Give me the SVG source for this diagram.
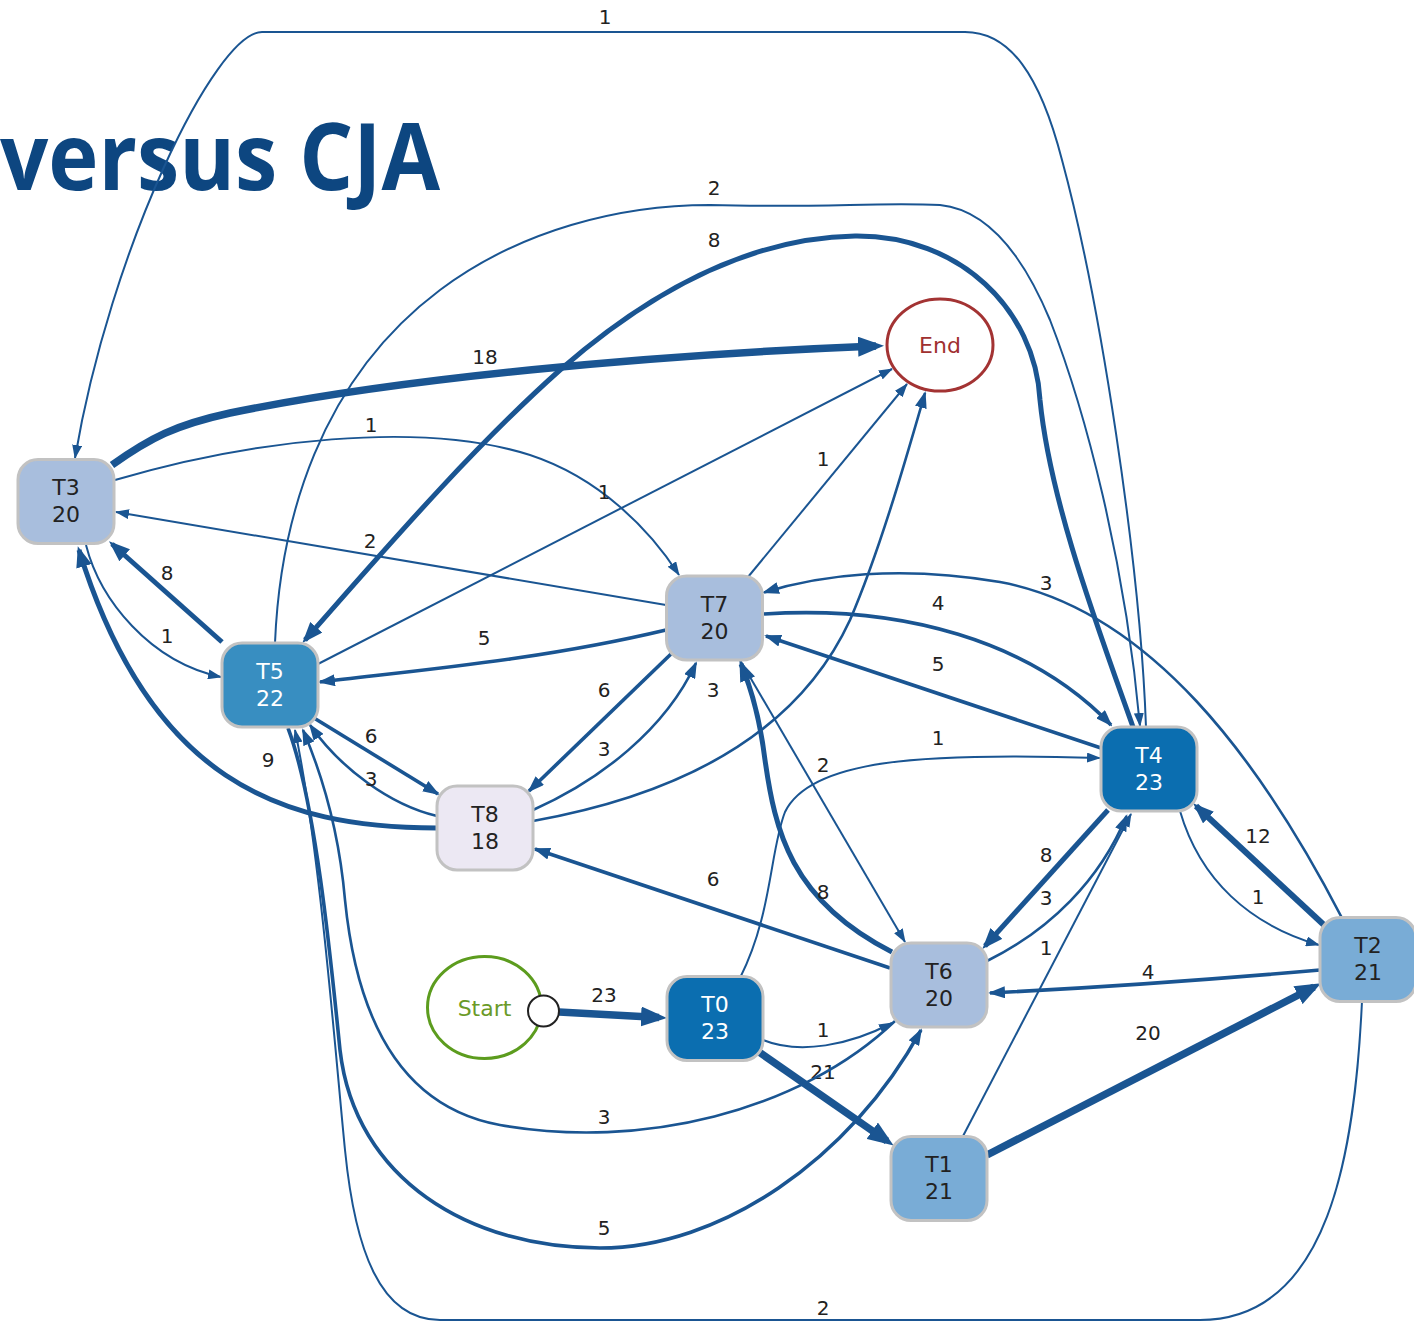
<svg xmlns="http://www.w3.org/2000/svg" width="1414" height="1324" viewBox="0 0 1414 1324">
  <style>
    .title { font-family: "Open Sans", "Liberation Sans", sans-serif; font-weight: bold; font-size: 94px; fill: #0d4680; }
    .e { fill: none; stroke: #1a5592; stroke-linejoin: round; }
    .w1 { stroke-width: 2; marker-end: url(#m1); }
    .w3 { stroke-width: 2.6; marker-end: url(#m2); }
    .w5 { stroke-width: 3.6; marker-end: url(#m2); }
    .w8 { stroke-width: 5; marker-end: url(#m3); }
    .w12 { stroke-width: 6; marker-end: url(#m3); }
    .w20 { stroke-width: 7.5; marker-end: url(#m4); }
    .lbl { font-family: "DejaVu Sans", Verdana, sans-serif; font-size: 20px; fill: #222; text-anchor: middle; }
    .node rect { stroke: #c2c2c2; stroke-width: 3; }
    .node text { font-family: "DejaVu Sans", Verdana, sans-serif; font-size: 22px; text-anchor: middle; }
    .light rect { fill: #a8bedd; }
    .light text { fill: #222; }
    .mid rect { fill: #388ec1; }
    .mid text { fill: #fff; }
    .dark rect { fill: #0b6eb0; }
    .dark text { fill: #fff; }
    .pale rect { fill: #79acd6; }
    .pale text { fill: #222; }
    .lav rect { fill: #ece8f3; }
    .lav text { fill: #222; }
  </style>
  <defs>
    <marker id="m1" markerUnits="userSpaceOnUse" markerWidth="14" markerHeight="10" refX="13" refY="5" orient="auto">
      <path d="M0,0 L14,5 L0,10 z" fill="#1a5592"/>
    </marker>
    <marker id="m2" markerUnits="userSpaceOnUse" markerWidth="17" markerHeight="12" refX="15" refY="6" orient="auto">
      <path d="M0,0 L17,6 L0,12 z" fill="#1a5592"/>
    </marker>
    <marker id="m3" markerUnits="userSpaceOnUse" markerWidth="21" markerHeight="16" refX="17" refY="8" orient="auto">
      <path d="M0,0 L21,8 L0,16 z" fill="#1a5592"/>
    </marker>
    <marker id="m4" markerUnits="userSpaceOnUse" markerWidth="26" markerHeight="20" refX="18" refY="10" orient="auto">
      <path d="M0,0 L26,10 L0,20 z" fill="#1a5592"/>
    </marker>
  </defs>

  <rect width="1414" height="1324" fill="#fff"/>
  <text class="title" x="0" y="190" textLength="440" lengthAdjust="spacingAndGlyphs">versus CJA</text>

  <g id="connectors">
    <g id="e-T4-T3"><path class="e w1" d="M1146,727 C1140,560 1100,300 1062,160 C1040,75 1010,32 965,32 L262,32 C215,32 110,250 75,458"/><text class="lbl" x="605" y="24">1</text></g>
    <g id="e-T3-End"><path class="e w20" d="M112,465 C150,438 175,425 230,413 C400,378 650,355 876,346"/><text class="lbl" x="485" y="364">18</text></g>
    <g id="e-T3-T7"><path class="e w1" d="M115,480 C250,440 420,420 530,455 C600,478 650,530 679,575"/><text class="lbl" x="371" y="432">1</text></g>
    <g id="e-T5-End"><path class="e w1" d="M318,664 L892,369"/><text class="lbl" x="604" y="499">1</text></g>
    <g id="e-T7-T3"><path class="e w1" d="M666,605 L116,512"/><text class="lbl" x="370" y="548">2</text></g>
    <g id="e-T7-End"><path class="e w1" d="M748,577 L907,384"/><text class="lbl" x="823" y="466">1</text></g>
    <g id="e-T5-T3"><path class="e w8" d="M222,642 L112,544"/><text class="lbl" x="167" y="580">8</text></g>
    <g id="e-T3-T5"><path class="e w1" d="M86,545 C100,600 150,662 221,677"/><text class="lbl" x="167" y="643">1</text></g>
    <g id="e-T7-T5"><path class="e w5" d="M666,630 C540,660 420,670 320,682"/><text class="lbl" x="484" y="645">5</text></g>
    <g id="e-T8-T3"><path class="e w8" d="M437,828 C280,828 150,780 79,550"/><text class="lbl" x="268" y="767">9</text></g>
    <g id="e-T5-T8"><path class="e w5" d="M314,718 L438,794"/><text class="lbl" x="371" y="743">6</text></g>
    <g id="e-T8-T5"><path class="e w3" d="M437,816 C390,805 340,768 310,725"/><text class="lbl" x="371" y="786">3</text></g>
    <g id="e-T7-T8"><path class="e w5" d="M671,654 L529,791"/><text class="lbl" x="604" y="697">6</text></g>
    <g id="e-T8-T7"><path class="e w3" d="M533,810 C600,780 665,730 696,663"/><text class="lbl" x="604" y="756">3</text></g>
    <g id="e-T8-End"><path class="e w3" d="M533,821 C650,800 790,750 850,620 C880,550 905,462 925,393"/><text class="lbl" x="713" y="697">3</text></g>
    <g id="e-T5-T4"><path class="e w1" d="M275,643 C280,520 320,380 440,290 C520,230 620,205 710,205 C820,208 880,202 940,205 C990,210 1025,260 1050,320 C1085,410 1125,560 1140,726"/><text class="lbl" x="714" y="195">2</text></g>
    <g id="e-T4-T5"><path class="e w8" d="M1133,727 C1095,620 1050,500 1040,400 C1035,310 960,235 855,236 C740,238 640,300 560,370 C470,450 380,555 305,640"/><text class="lbl" x="714" y="247">8</text></g>
    <g id="e-T7-T4"><path class="e w5" d="M764,614 C900,605 1030,640 1111,725"/><text class="lbl" x="938" y="610">4</text></g>
    <g id="e-T4-T7"><path class="e w5" d="M1101,748 L766,636"/><text class="lbl" x="938" y="671">5</text></g>
    <g id="e-T2-T7"><path class="e w3" d="M1342,918 C1260,760 1150,610 1000,582 C900,565 820,575 764,592.5"/><text class="lbl" x="1046" y="590">3</text></g>
    <g id="e-T0-T4"><path class="e w1" d="M740,978 C772,915 770,850 785,812 C810,760 920,752 1100,758"/><text class="lbl" x="938" y="745">1</text></g>
    <g id="e-T7-T6"><path class="e w1" d="M740,660 L905,942"/><text class="lbl" x="823" y="772">2</text></g>
    <g id="e-T6-T7"><path class="e w8" d="M892,952 C790,900 775,830 765,760 C760,720 752,690 741,664"/><text class="lbl" x="823" y="899">8</text></g>
    <g id="e-T6-T8"><path class="e w5" d="M890,968 L535,849"/><text class="lbl" x="713" y="886">6</text></g>
    <g id="e-T4-T6"><path class="e w8" d="M1108,810 L985,946"/><text class="lbl" x="1046" y="862">8</text></g>
    <g id="e-T6-T4"><path class="e w3" d="M987,961 C1050,930 1100,880 1126.5,816"/><text class="lbl" x="1046" y="905">3</text></g>
    <g id="e-T1-T4"><path class="e w1" d="M962,1138 L1131,814"/><text class="lbl" x="1046" y="955">1</text></g>
    <g id="e-T2-T4"><path class="e w12" d="M1324,925 L1196,806"/><text class="lbl" x="1258" y="843">12</text></g>
    <g id="e-T4-T2"><path class="e w1" d="M1180,811 C1200,880 1250,925 1319,945"/><text class="lbl" x="1258" y="904">1</text></g>
    <g id="e-T2-T6"><path class="e w5" d="M1320,970 Q1150,985 990,993"/><text class="lbl" x="1148" y="979">4</text></g>
    <g id="e-T1-T2"><path class="e w20" d="M987,1155 L1314,987"/><text class="lbl" x="1148" y="1040">20</text></g>
    <g id="e-Start-T0"><path class="e w20" d="M559,1012 L659,1017.5"/><text class="lbl" x="604" y="1002">23</text></g>
    <g id="e-T0-T6"><path class="e w1" d="M763,1040 C800,1055 850,1045 892,1023"/><text class="lbl" x="823" y="1037">1</text></g>
    <g id="e-T0-T1"><path class="e w20" d="M759,1052 L887,1141"/><text class="lbl" x="823" y="1079">21</text></g>
    <g id="e-T6-T5"><path class="e w3" d="M895,1021 C800,1112 640,1150 500,1125 C390,1105 355,1000 345,900 C338,820 318,765 303,730"/><text class="lbl" x="604" y="1124">3</text></g>
    <g id="e-T5-T6"><path class="e w5" d="M288,728 C315,800 330,950 340,1050 C355,1180 470,1248 600,1248 C720,1248 850,1160 921,1030"/><text class="lbl" x="604" y="1235">5</text></g>
    <g id="e-T2-T5"><path class="e w1" d="M1362,1001 C1355,1150 1330,1320 1200,1320 L440,1320 C380,1320 355,1250 345,1150 C335,1050 320,850 295,730"/><text class="lbl" x="823" y="1315">2</text></g>
  </g>

  <g id="node-Start">
    <ellipse cx="484.5" cy="1007.5" rx="57" ry="51" fill="#fff" stroke="#5c9c1e" stroke-width="3"/>
    <text x="484.5" y="1016" font-family="DejaVu Sans, Verdana, sans-serif" font-size="22" fill="#6a9a28" text-anchor="middle">Start</text>
    <circle cx="543.5" cy="1011" r="15.5" fill="#fff" stroke="#222" stroke-width="2"/>
  </g>
  <g id="node-End">
    <ellipse cx="940" cy="345" rx="53" ry="46" fill="#fff" stroke="#a33333" stroke-width="3"/>
    <text x="940" y="353" font-family="DejaVu Sans, Verdana, sans-serif" font-size="22" fill="#a03030" text-anchor="middle">End</text>
  </g>
  <g id="node-T3" class="node light"><rect x="18" y="459.5" width="96" height="84" rx="20"/><text x="66"><tspan x="66" y="495">T3</tspan><tspan x="66" y="522">20</tspan></text></g>
  <g id="node-T5" class="node mid"><rect x="222" y="643" width="96" height="84" rx="20"/><text x="270"><tspan x="270" y="678.5">T5</tspan><tspan x="270" y="705.5">22</tspan></text></g>
  <g id="node-T7" class="node light"><rect x="666.5" y="576" width="96" height="84" rx="20"/><text x="714.5"><tspan x="714.5" y="611.5">T7</tspan><tspan x="714.5" y="638.5">20</tspan></text></g>
  <g id="node-T4" class="node dark"><rect x="1101" y="727" width="96" height="84" rx="20"/><text x="1149"><tspan x="1149" y="762.5">T4</tspan><tspan x="1149" y="789.5">23</tspan></text></g>
  <g id="node-T2" class="node pale"><rect x="1320" y="917.5" width="96" height="84" rx="20"/><text x="1368"><tspan x="1368" y="953">T2</tspan><tspan x="1368" y="980">21</tspan></text></g>
  <g id="node-T8" class="node lav"><rect x="437" y="786" width="96" height="84" rx="20"/><text x="485"><tspan x="485" y="821.5">T8</tspan><tspan x="485" y="848.5">18</tspan></text></g>
  <g id="node-T6" class="node light"><rect x="891" y="943" width="96" height="84" rx="20"/><text x="939"><tspan x="939" y="978.5">T6</tspan><tspan x="939" y="1005.5">20</tspan></text></g>
  <g id="node-T1" class="node pale"><rect x="891" y="1136.5" width="96" height="84" rx="20"/><text x="939"><tspan x="939" y="1172">T1</tspan><tspan x="939" y="1199">21</tspan></text></g>
  <g id="node-T0" class="node dark"><rect x="667" y="976.5" width="96" height="84" rx="20"/><text x="715"><tspan x="715" y="1012">T0</tspan><tspan x="715" y="1039">23</tspan></text></g>
</svg>
